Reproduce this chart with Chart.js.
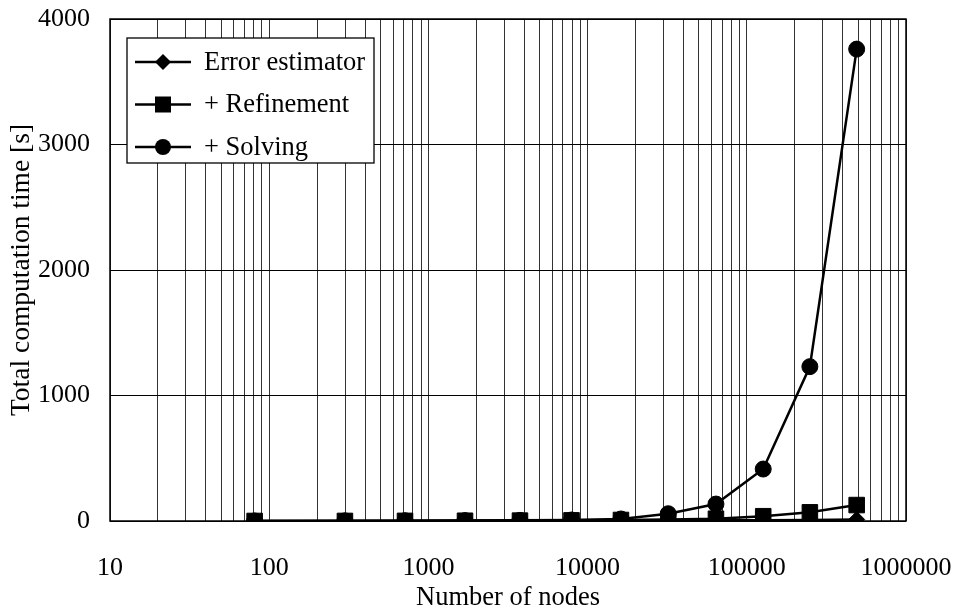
<!DOCTYPE html>
<html>
<head>
<meta charset="utf-8">
<script src="https://cdn.jsdelivr.net/npm/chart.js@4/dist/chart.umd.min.js"></script>
<style>
    html, body { margin: 0; padding: 0; background: #fff; }
    #wrap { width: 954px; height: 615px; }
</style>
</head>
<body>
<div id="wrap"><canvas id="timeChart" width="954" height="615"></canvas></div>
<script>
    // number of nodes (x) and times in seconds (y)
    var nodes = [81, 299, 713, 1698, 3760, 7925, 16200, 32100, 64000, 126800, 249000, 490000];
    var errorEstimator = [0.1, 0.2, 0.5, 1, 1.5, 2, 3, 4, 5, 6, 8, 12];
    var refinement = [0.2, 0.5, 1, 2, 3, 5, 8, 11, 18, 38, 69, 127];
    var solving = [0.3, 1, 2, 3, 5, 8, 16, 58, 135, 414, 1230, 3760];

    var seriesNames = ['Error estimator', '+ Refinement', '+ Solving'];
    var xTickLabels = [10, 100, 1000, 10000, 100000, 1000000];
    var yTickLabels = [0, 1000, 2000, 3000, 4000];

    var fontFamily = '"Liberation Serif", "Times New Roman", serif';

    function toPoints(ys) {
        var pts = [];
        for (var i = 0; i < nodes.length; i++) {
            pts.push({ x: nodes[i], y: ys[i] });
        }
        return pts;
    }

    // log minor ticks 1..9 x 10^n between first and last label
    function buildLogTicks() {
        var t = [];
        for (var i = 0; i < xTickLabels.length - 1; i++) {
            for (var k = 1; k <= 9; k++) {
                t.push({ value: xTickLabels[i] * k });
            }
        }
        t.push({ value: xTickLabels[xTickLabels.length - 1] });
        return t;
    }

    function makeSet(label, ys, style, radius) {
        return {
            label: label,
            data: toPoints(ys),
            borderColor: '#000',
            backgroundColor: '#000',
            borderWidth: 2.5,
            pointStyle: style,
            pointRadius: radius,
            pointHoverRadius: radius,
            pointBorderWidth: 1,
            pointBackgroundColor: '#000',
            pointBorderColor: '#000',
            tension: 0
        };
    }

    // frame round the plot area, drawn under the markers
    var framePlugin = {
        id: 'frame',
        beforeDatasetsDraw: function (chart) {
            var a = chart.chartArea;
            var ctx = chart.ctx;
            ctx.save();
            ctx.strokeStyle = '#000';
            ctx.lineWidth = 1.5;
            ctx.strokeRect(a.left, a.top, a.right - a.left, a.bottom - a.top);
            ctx.restore();
        }
    };

    function drawMarker(ctx, style, x, y) {
        ctx.beginPath();
        if (style === 'rectRot') {
            ctx.moveTo(x - 8, y);
            ctx.lineTo(x, y - 8);
            ctx.lineTo(x + 8, y);
            ctx.lineTo(x, y + 8);
            ctx.closePath();
        } else if (style === 'rect') {
            ctx.rect(x - 8, y - 8, 16, 16);
        } else {
            ctx.arc(x, y, 8, 0, Math.PI * 2);
        }
        ctx.fill();
    }

    // boxed legend inside the plot area
    var legendPlugin = {
        id: 'boxLegend',
        afterDraw: function (chart) {
            var ctx = chart.ctx;
            var box = { x: 127, y: 38, w: 247, h: 125 };
            ctx.save();
            ctx.fillStyle = '#fff';
            ctx.fillRect(box.x, box.y, box.w, box.h);
            ctx.strokeStyle = '#000';
            ctx.lineWidth = 1.3;
            ctx.strokeRect(box.x, box.y, box.w, box.h);
            ctx.font = '26.5px ' + fontFamily;
            ctx.textBaseline = 'middle';
            var sets = chart.data.datasets;
            for (var i = 0; i < sets.length; i++) {
                var cy = 62 + i * 42.5;
                ctx.strokeStyle = '#000';
                ctx.lineWidth = 2.5;
                ctx.beginPath();
                ctx.moveTo(135, cy);
                ctx.lineTo(191, cy);
                ctx.stroke();
                ctx.fillStyle = '#000';
                drawMarker(ctx, sets[i].pointStyle, 163, cy);
                ctx.fillText(sets[i].label, 204, cy + 1);
            }
            ctx.restore();
        }
    };

    var ctx = document.getElementById('timeChart').getContext('2d');
    var chart = new Chart(ctx, {
        type: 'line',
        data: {
            datasets: [
                makeSet(seriesNames[0], errorEstimator, 'rectRot', 8),
                makeSet(seriesNames[1], refinement, 'rect', 11),
                makeSet(seriesNames[2], solving, 'circle', 8)
            ]
        },
        options: {
            responsive: false,
            animation: false,
            events: [],
            layout: { padding: { top: 19, right: 48, bottom: 0, left: 0 } },
            plugins: {
                legend: { display: false },
                tooltip: { enabled: false }
            },
            scales: {
                x: {
                    type: 'logarithmic',
                    min: xTickLabels[0],
                    max: xTickLabels[xTickLabels.length - 1],
                    afterBuildTicks: function (scale) {
                        scale.ticks = buildLogTicks();
                    },
                    afterFit: function (scale) {
                        scale.height = 94;
                        scale.paddingLeft = 0;
                        scale.paddingRight = 0;
                    },
                    grid: { color: '#333', lineWidth: 1, drawTicks: false },
                    border: { display: false },
                    ticks: {
                        autoSkip: false,
                        maxRotation: 0,
                        padding: 32,
                        color: '#000',
                        font: { family: fontFamily, size: 26 },
                        callback: function (value) {
                            return xTickLabels.indexOf(value) >= 0 ? String(value) : '';
                        }
                    },
                    title: {
                        display: true,
                        text: 'Number of nodes',
                        color: '#000',
                        font: { family: fontFamily, size: 26.5 },
                        padding: { top: 0, bottom: 1 }
                    }
                },
                y: {
                    min: yTickLabels[0],
                    max: yTickLabels[yTickLabels.length - 1],
                    afterBuildTicks: function (scale) {
                        scale.ticks = yTickLabels.map(function (v) { return { value: v }; });
                    },
                    afterFit: function (scale) {
                        scale.width = 110;
                        scale.paddingTop = 0;
                        scale.paddingBottom = 0;
                    },
                    grid: { color: '#000', lineWidth: 1, drawTicks: false },
                    border: { display: false },
                    ticks: {
                        padding: 20,
                        color: '#000',
                        font: { family: fontFamily, size: 26 },
                        callback: function (value) {
                            return String(value);
                        }
                    },
                    title: {
                        display: true,
                        text: 'Total computation time [s]',
                        color: '#000',
                        font: { family: fontFamily, size: 27.5 },
                        padding: { top: 5, bottom: 0 }
                    }
                }
            }
        },
        plugins: [framePlugin, legendPlugin]
    });
</script>
</body>
</html>
